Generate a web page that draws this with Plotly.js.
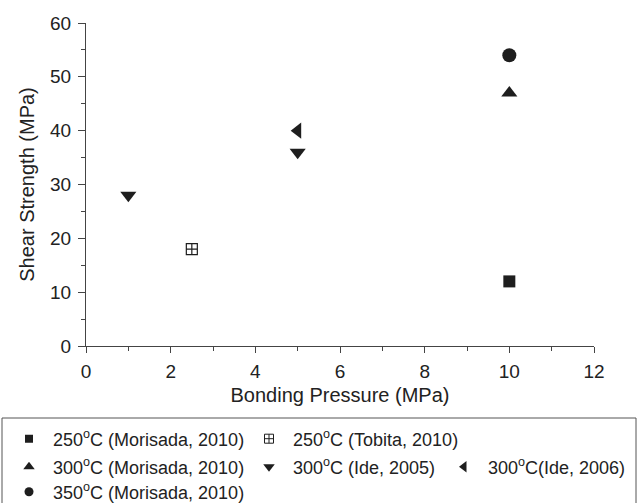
<!DOCTYPE html>
<html>
<head>
<meta charset="utf-8">
<script src="https://cdn.plot.ly/plotly-3.0.1.min.js"></script>
<style>html,body{margin:0;padding:0;background:#fff}#chart{width:641px;height:503px}</style>
</head>
<body>
<div id="chart"></div>
<script>
// Data
const seriesNames = [
  "250<sup>o</sup>C (Morisada, 2010)",
  "250<sup>o</sup>C (Tobita, 2010)",
  "300<sup>o</sup>C (Morisada, 2010)",
  "300<sup>o</sup>C (Ide, 2005)",
  "300<sup>o</sup>C(Ide, 2006)",
  "350<sup>o</sup>C (Morisada, 2010)"
];
const morisada250X = [10];
const morisada250Y = [12];
const tobita250X = [2.5];
const tobita250Y = [18];
const morisada300X = [10];
const morisada300Y = [47];
const ide2005X = [1, 5];
const ide2005Y = [28, 36];
const ide2006X = [5];
const ide2006Y = [40];
const morisada350X = [10];
const morisada350Y = [54];

const xs = [morisada250X, tobita250X, morisada300X, ide2005X, ide2006X, morisada350X];
const ys = [morisada250Y, tobita250Y, morisada300Y, ide2005Y, ide2006Y, morisada350Y];

// styles
const symbols = ["square", "square-cross-open", "triangle-up", "triangle-down", "triangle-left", "circle"];
const plotSizes = [12, 11, 14, 14, 14, 14];
const legSizes = [8, 9, 10, 10, 10, 9];
const ink = "#1e1e1e";

// layout geometry (px)
const W = 641, H = 503;
const M = {l: 86, r: 47, t: 23, b: 157};
const pw = W - M.l - M.r, ph = H - M.t - M.b;
// legend entry positions: text start x, row centre y (px)
const legPos = [[53, 439], [293, 439], [53, 467], [293, 467], [488, 467], [53, 492]];
const legItemWidth = 38;

const traces = [];
for (let i = 0; i < 6; i++) {
  traces.push({
    type: "scatter", mode: "markers", x: xs[i], y: ys[i], showlegend: false,
    marker: {symbol: symbols[i], size: plotSizes[i], color: ink,
             line: {color: ink, width: symbols[i].indexOf("open") >= 0 ? 1.2 : 0}},
    hoverinfo: "x+y"
  });
}
for (let i = 0; i < 6; i++) {
  traces.push({
    type: "scatter", mode: "markers", x: [null], y: [null], name: seriesNames[i],
    showlegend: true, legend: i === 0 ? "legend" : "legend" + (i + 1),
    marker: {symbol: symbols[i], size: legSizes[i], color: ink,
             line: {color: ink, width: symbols[i].indexOf("open") >= 0 ? 1 : 0}}
  });
}

const fam = "Liberation Sans, Arial, sans-serif";
const tickFont = {family: fam, size: 19, color: "#222"};
const titleFont = {family: fam, size: 20, color: "#222"};
const legFont = {family: fam, size: 18, color: "#222"};
const layout = {
  width: W, height: H, margin: M, paper_bgcolor: "#fff", plot_bgcolor: "#fff",
  font: legFont, showlegend: true,
  xaxis: {range: [0, 12], dtick: 2, tick0: 0, ticks: "outside", ticklen: 6, tickwidth: 1, tickcolor: "#444",
          showline: true, linecolor: "#444", linewidth: 1, showgrid: false, zeroline: false, automargin: false,
          ticklabelstandoff: 2,
          minor: {dtick: 1, ticks: "outside", ticklen: 4, tickcolor: "#444", showgrid: false},
          title: {text: "Bonding Pressure (MPa)", font: titleFont, standoff: 7}, tickfont: tickFont, fixedrange: true},
  yaxis: {range: [0, 60], dtick: 10, tick0: 0, ticks: "outside", ticklen: 7, tickwidth: 1, tickcolor: "#444",
          showline: true, linecolor: "#444", linewidth: 1, showgrid: false, zeroline: false, automargin: false,
          ticklabelstandoff: 3,
          minor: {dtick: 5, ticks: "outside", ticklen: 4, tickcolor: "#444", showgrid: false},
          title: {text: "Shear Strength (MPa)", font: titleFont, standoff: 10}, tickfont: tickFont, fixedrange: true},
  shapes: [{type: "rect", xref: "paper", yref: "paper",
            x0: (2 - M.l) / pw, x1: (636 - M.l) / pw,
            y0: (M.t + ph - 418) / ph, y1: (M.t + ph - 520) / ph,
            line: {color: "#555", width: 1}, fillcolor: "rgba(0,0,0,0)"}]
};
for (let i = 0; i < 6; i++) {
  const key = i === 0 ? "legend" : "legend" + (i + 1);
  layout[key] = {
    orientation: "h", xref: "container", yref: "container", itemwidth: legItemWidth,
    x: (legPos[i][0] - legItemWidth - 10) / W, xanchor: "left",
    y: 1 - legPos[i][1] / H, yanchor: "middle",
    bgcolor: "rgba(0,0,0,0)", borderwidth: 0, font: legFont, itemclick: false, itemdoubleclick: false
  };
}
Plotly.newPlot("chart", traces, layout, {displayModeBar: false, staticPlot: true});
</script>
</body>
</html>
